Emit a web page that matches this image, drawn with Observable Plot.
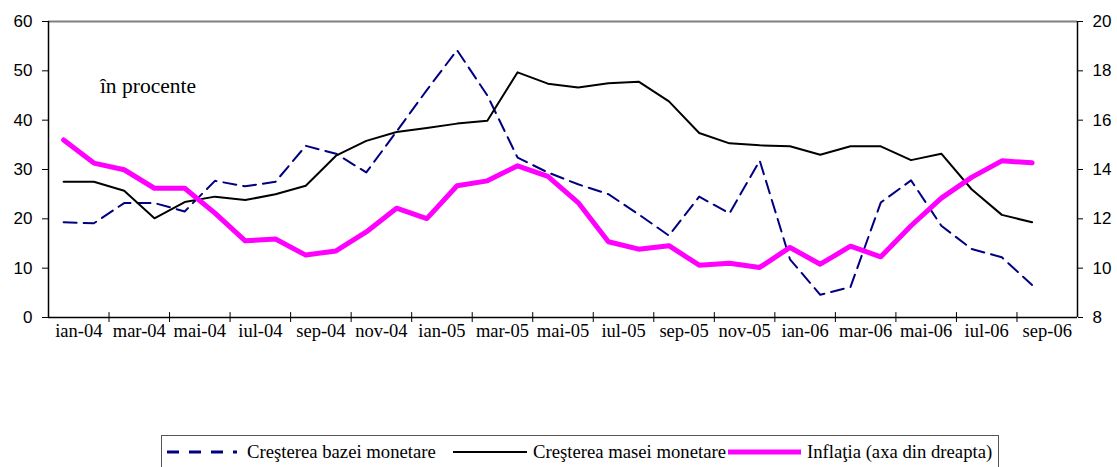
<!DOCTYPE html>
<html>
<head>
<meta charset="utf-8">
<script src="https://cdn.jsdelivr.net/npm/d3@7"></script>
<script src="https://cdn.jsdelivr.net/npm/@observablehq/plot@0.6"></script>
<style>
  html, body { margin: 0; padding: 0; background: #fff; }
  #chart svg { display: block; }
  #legend {
    position: absolute; left: 161px; top: 435px; width: 838px; height: 40px;
    border: 1px solid #555; box-sizing: border-box;
    font-family: "Liberation Serif", "Times New Roman", serif; font-size: 18.7px; color: #000;
  }
  .item { position: absolute; top: 5px; display: flex; align-items: center; white-space: nowrap; }
  .item svg { display: block; }
</style>
</head>
<body>
<div id="chart"></div>
<div id="legend"></div>
<script>
// Month categories (ian-04 .. sep-06)
const months = ["ian-04","feb-04","mar-04","apr-04","mai-04","iun-04","iul-04","aug-04","sep-04","oct-04","nov-04","dec-04",
                "ian-05","feb-05","mar-05","apr-05","mai-05","iun-05","iul-05","aug-05","sep-05","oct-05","nov-05","dec-05",
                "ian-06","feb-06","mar-06","apr-06","mai-06","iun-06","iul-06","aug-06","sep-06"];
// Creşterea bazei monetare (left axis, %)
const bazaMonetara = [19.3,19.1,23.2,23.2,21.5,27.7,26.6,27.5,34.8,33.2,29.4,37.7,46.1,54.2,45.0,32.4,29.4,27.0,25.0,20.9,16.6,24.5,21.1,31.8,
                      11.8,4.6,6.2,23.3,27.8,18.6,13.9,12.2,6.6];
// Creşterea masei monetare (left axis, %)
const masaMonetara = [27.5,27.5,25.7,20.1,23.4,24.5,23.8,25.0,26.7,32.8,35.8,37.6,38.4,39.3,39.9,49.7,47.4,46.6,47.5,47.8,43.8,37.4,35.3,34.9,
                      34.7,33.0,34.7,34.7,31.9,33.2,26.0,20.8,19.3];
// Inflaţia (right axis, %)
const inflatia = [15.2,14.26,13.99,13.24,13.24,12.23,11.11,11.18,10.53,10.7,11.47,12.43,12.01,13.34,13.54,14.15,13.72,12.66,11.07,10.77,10.91,10.12,10.2,10.03,
                  10.84,10.16,10.89,10.46,11.72,12.84,13.68,14.35,14.27];
// Axis ticks
const leftTicks = [0,10,20,30,40,50,60];
const rightTicks = [8,10,12,14,16,18,20];
const annotation = [{label: "în procente", month: "feb-04", value: 47}];
const legendLabels = ["Creşterea bazei monetare", "Creşterea masei monetare", "Inflaţia (axa din dreapta)"];

const serif = "'Liberation Serif', 'Times New Roman', serif";
const sans = "'Liberation Sans', Arial, sans-serif";

// map right axis onto left axis scale
const r2l = d3.scaleLinear().domain([rightTicks[0], rightTicks[rightTicks.length-1]]).range([leftTicks[0], leftTicks[leftTicks.length-1]]);

const idx = months.map((m, i) => i);
const nBands = months.length + 1; // axis extends one extra (empty) category
const xDomain = [-0.5, nBands - 0.5];
const boundaries = d3.range(1, nBands / 2).map(k => 2 * k - 0.5);
const labelPos = d3.range(0, months.length, 2).map(i => i + 0.5);

const rows = idx.map(i => ({i, baza: bazaMonetara[i], masa: masaMonetara[i], infl: r2l(inflatia[i])}));

const plot = Plot.plot({
  width: 1117,
  height: 345,
  marginLeft: 48,
  marginRight: 40,
  marginTop: 21,
  marginBottom: 28,
  x: {domain: xDomain, axis: null, label: null},
  y: {domain: [leftTicks[0], leftTicks[leftTicks.length-1]], axis: null, label: null},
  style: {fontFamily: sans, fontSize: "17px", color: "#000", background: "#fff"},
  marks: [
    Plot.ruleY([leftTicks[leftTicks.length-1]], {stroke: "#808080", strokeWidth: 2}),
    Plot.line(rows, {x: "i", y: "baza", stroke: "#000080", strokeWidth: 2, strokeDasharray: "13,7"}),
    Plot.line(rows, {x: "i", y: "masa", stroke: "#000", strokeWidth: 2}),
    Plot.line(rows, {x: "i", y: "infl", stroke: "#ff00ff", strokeWidth: 5}),
    Plot.ruleX([xDomain[0], xDomain[1]], {stroke: "#000", strokeWidth: 1.5}),
    Plot.ruleY([leftTicks[0]], {stroke: "#000", strokeWidth: 1.5}),
    Plot.ruleX(boundaries, {y1: 0, y2: 1, stroke: "#000"}),
    Plot.axisY({anchor: "left", ticks: leftTicks, label: null, tickSize: 6, tickPadding: 10, fontSize: 17, fontFamily: sans}),
    Plot.axisY({anchor: "right", ticks: rightTicks.map(r2l), label: null, tickFormat: d => String(Math.round(r2l.invert(d))), tickSize: 5, tickPadding: 10, fontSize: 17, fontFamily: sans}),
    Plot.axisX({anchor: "bottom", ticks: boundaries, label: null, tickFormat: () => "", tickSize: 5}),
    Plot.axisX({anchor: "bottom", ticks: labelPos, label: null, tickFormat: d => months[d - 0.5], tickSize: 0, tickPadding: 6, fontSize: 18.5, fontFamily: serif}),
    Plot.text(annotation, {x: d => months.indexOf(d.month), y: "value", text: "label", textAnchor: "start", dx: 6, fontFamily: serif, fontSize: 21.5})
  ]
});
document.getElementById("chart").appendChild(plot);

// legend
const legend = document.getElementById("legend");
const items = [
  {left: 5, swatch: {stroke: "#000080", width: 3, dash: "12,10", len: 70}, gap: 10, text: legendLabels[0]},
  {left: 291, swatch: {stroke: "#000", width: 2, dash: null, len: 74}, gap: 6, text: legendLabels[1]},
  {left: 566, swatch: {stroke: "#ff00ff", width: 5, dash: null, len: 73}, gap: 6, text: legendLabels[2]}
];
items.forEach(it => {
  const div = document.createElement("div");
  div.className = "item";
  div.style.left = it.left + "px";
  const s = it.swatch;
  div.innerHTML = `<svg width="${s.len}" height="10"><line x1="0" x2="${s.len}" y1="5" y2="5" stroke="${s.stroke}" stroke-width="${s.width}" ${s.dash ? `stroke-dasharray="${s.dash}"` : ""}/></svg><span style="margin-left:${it.gap}px">${it.text}</span>`;
  legend.appendChild(div);
});
</script>
</body>
</html>
